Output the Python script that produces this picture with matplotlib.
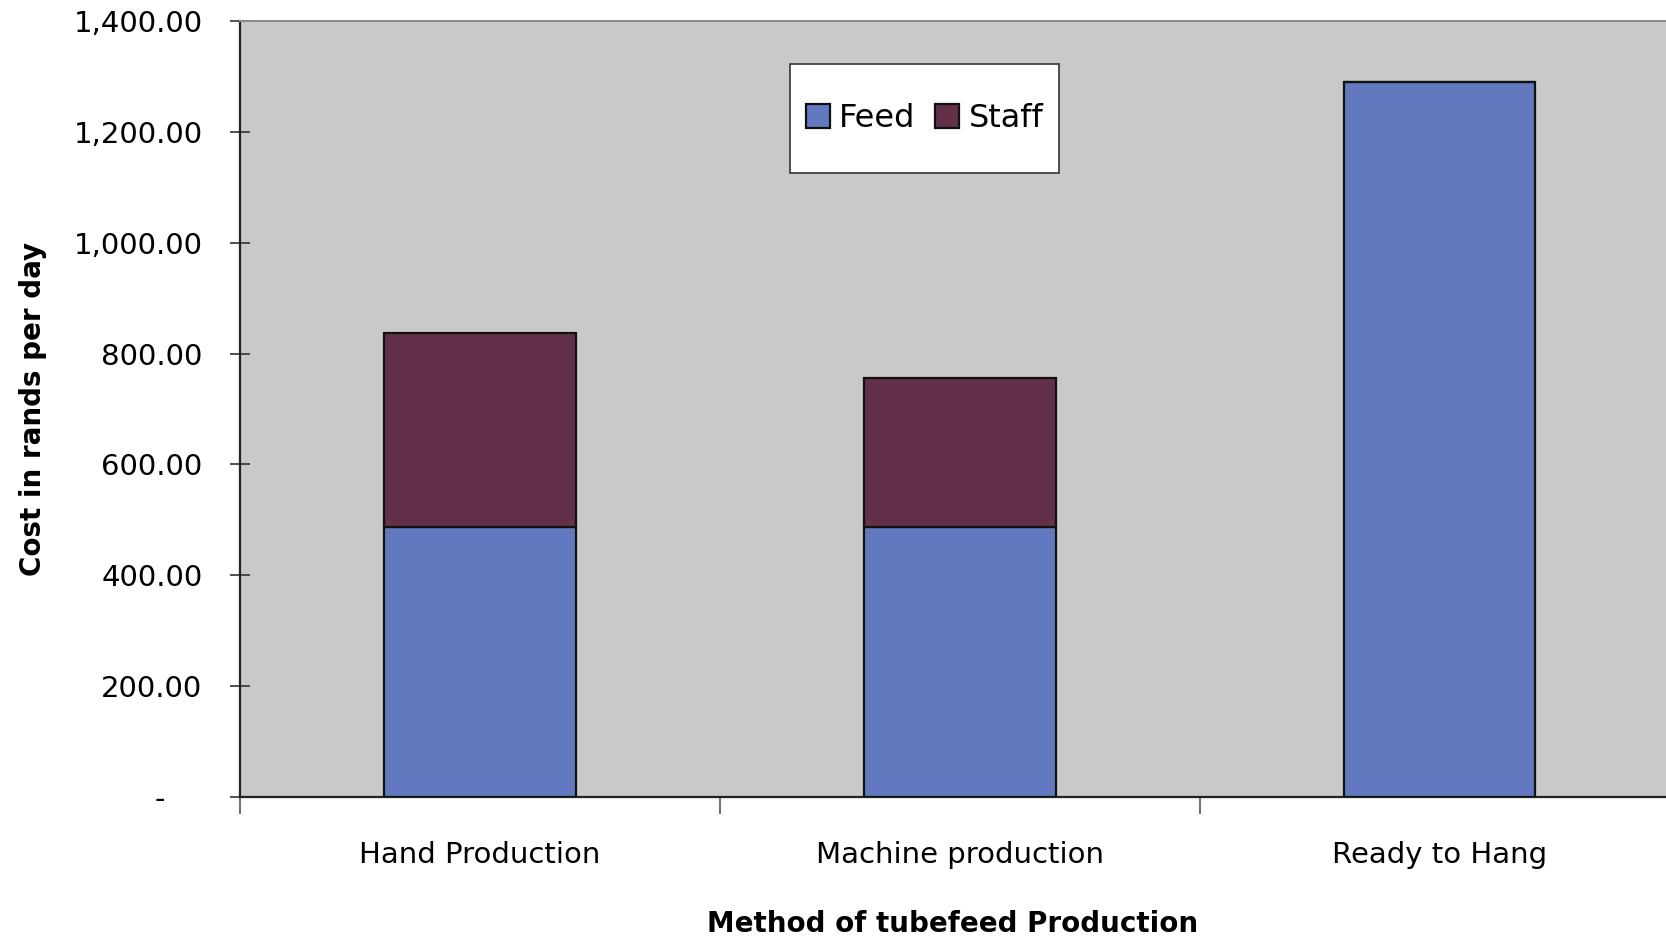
import matplotlib.pyplot as plt
from matplotlib.patches import Rectangle
from matplotlib.ticker import FixedLocator, FuncFormatter

# Daily cost per tubefeed production method (rands)
methods = ["Hand Production", "Machine production", "Ready to Hang"]
feed_cost = [488, 488, 1290]
staff_cost = [349, 268, 0]
y_ticks = [0, 200, 400, 600, 800, 1000, 1200, 1400]

plt.rcParams['font.family'] = ['DejaVu Sans']

fig = plt.figure(figsize=(16.66, 9.41), dpi=100)
ax = fig.add_axes([0.1441, 0.153, 0.8559, 0.8247])
ax.set_facecolor('#c9c9c9')

x = list(range(len(methods)))
ax.bar(x, feed_cost, width=0.40, color='#6279c0', edgecolor='#111111',
       linewidth=1.6, label='Feed', zorder=3)
ax.bar(x, staff_cost, width=0.40, bottom=feed_cost, color='#623049',
       edgecolor='#111111', linewidth=1.6, label='Staff', zorder=3)

ax.set_xlim(-0.5, 2.472)
ax.set_ylim(0, 1400)

# y axis: thousands separators, accounting-style dash for zero
ax.yaxis.set_major_locator(FixedLocator(y_ticks))
ax.yaxis.set_major_formatter(FuncFormatter(
    lambda v, p: '-    ' if v == 0 else f'{v:,.2f}'))
ax.tick_params(axis='y', direction='inout', length=14, width=1.2,
               color='#333333', labelsize=21, pad=20)

# x axis: labels at centres, tick marks between categories
ax.set_xticks(x)
ax.set_xticklabels(methods)
ax.set_xticks([-0.5, 0.5, 1.5], minor=True)
ax.tick_params(axis='x', which='major', length=0, labelsize=21, pad=32)
ax.tick_params(axis='x', which='minor', direction='out', length=12,
               width=1.2, color='#555555')

for side in ['left', 'bottom']:
    ax.spines[side].set_color('#222222')
    ax.spines[side].set_linewidth(1.6)
ax.spines['top'].set_color('#8a8a8a')
ax.spines['top'].set_linewidth(1.4)
ax.spines['right'].set_visible(False)

ax.set_ylabel('Cost in rands per day', fontsize=20, fontweight='bold',
              labelpad=19)
ax.set_xlabel('Method of tubefeed Production', fontsize=20,
              fontweight='bold', labelpad=29)

# legend box drawn separately so it can be taller than the entries need
box_x, box_y, box_w, box_h = 0.3857, 0.804, 0.1886, 0.1405
ax.add_patch(Rectangle((box_x, box_y), box_w, box_h, transform=ax.transAxes,
                       facecolor='white', edgecolor='#333333', linewidth=1.2,
                       zorder=4))
leg = ax.legend(ncol=2, loc='center',
                bbox_to_anchor=(box_x + box_w / 2, box_y + box_h / 2),
                borderaxespad=0, fontsize=23, frameon=False,
                handlelength=0.75, handleheight=0.75, handletextpad=0.3,
                columnspacing=0.6, borderpad=0)
leg.set_zorder(5)

fig.savefig('out.png', dpi=100)
